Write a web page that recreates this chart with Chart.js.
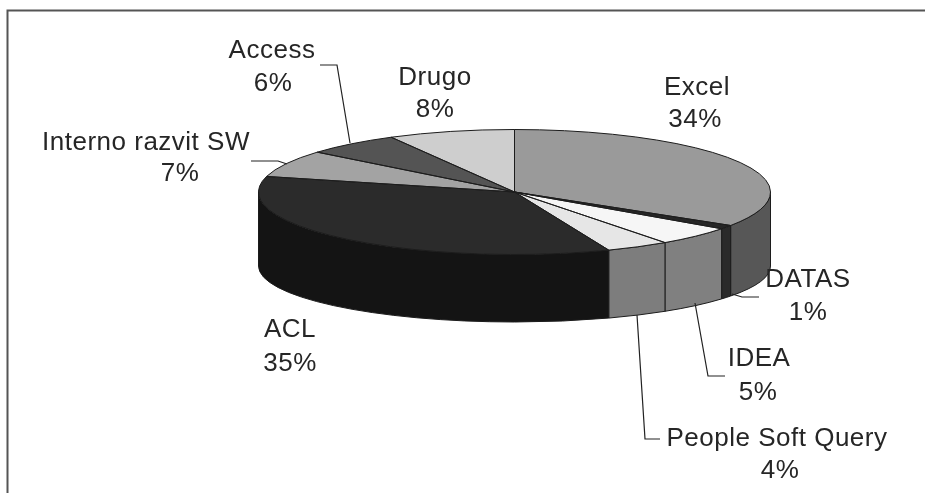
<!DOCTYPE html>
<html>
<head>
<meta charset="utf-8">
<style>
    html, body { margin: 0; padding: 0; background: #fff; }
    canvas { display: block; }
</style>
<script src="https://cdn.jsdelivr.net/npm/chart.js@4/dist/chart.umd.min.js"></script>
</head>
<body>
<canvas id="pieChart" width="925" height="493"></canvas>
<script>
const categories = ['Excel', 'DATAS', 'IDEA', 'People Soft Query', 'ACL', 'Interno razvit SW', 'Access', 'Drugo'];
const shares = [34, 1, 5, 4, 35, 7, 6, 8];
const topColors = ['#9a9a9a', '#262626', '#f6f6f6', '#e6e6e6', '#2b2b2b', '#a3a3a3', '#545454', '#cecece'];
const sideColors = ['#575757', '#2a2a2a', '#808080', '#7d7d7d', '#141414', '#555555', '#333333', '#777777'];

// posizione del disco inclinato sulla pagina (il fondo è più piatto, per la prospettiva)
const disc = { x: 514.5, y: 192, rx: 256, ry: 62.5, bottomY: 266, bottomRy: 56 };
const lineColor = '#1c1c1c';

// posizione delle etichette: [x nome, y nome, x percentuale, y percentuale]
const labelSpots = [
    [697, 88, 695, 120],
    [808, 280, 808, 313],
    [759, 359, 758, 393],
    [777, 439, 780, 471],
    [290, 330, 290, 364],
    [146, 143, 180, 174],
    [272, 51, 273, 84],
    [435, 78, 435, 110]
];

// linee guida tra etichetta e fetta
const leaders = [
    [[732, 294], [742, 297], [759, 297]],
    [[695, 303], [708, 376], [725, 376]],
    [[637, 315], [645, 439], [660, 439]],
    [[251, 161], [278, 161], [287, 164]],
    [[320, 65], [337, 65], [350, 143]]
];

const tiltedPie = {
    id: 'tiltedPie',
    beforeDatasetsDraw(chart) {
        const ctx = chart.ctx;
        const arcs = chart.getDatasetMeta(0).data;

        // fianco del disco: solo la metà davanti è visibile
        arcs.forEach(function(arc, i) {
            const from = Math.max(arc.startAngle, 0);
            const to = Math.min(arc.endAngle, Math.PI);
            if (from >= to) return;
            ctx.beginPath();
            ctx.ellipse(disc.x, disc.y, disc.rx, disc.ry, 0, from, to);
            ctx.ellipse(disc.x, disc.bottomY, disc.rx, disc.bottomRy, 0, to, from, true);
            ctx.closePath();
            ctx.fillStyle = sideColors[i];
            ctx.fill();
            ctx.strokeStyle = lineColor;
            ctx.lineWidth = 1;
            ctx.stroke();
        });

        // le fette di Chart.js vengono schiacciate sull'ellisse
        const first = arcs[0];
        ctx.save();
        ctx.translate(disc.x, disc.y);
        ctx.scale(disc.rx / first.outerRadius, disc.ry / first.outerRadius);
        ctx.translate(-first.x, -first.y);
    },
    afterDatasetsDraw(chart) {
        const ctx = chart.ctx;
        ctx.restore();

        // contorno delle fette
        chart.getDatasetMeta(0).data.forEach(function(arc) {
            ctx.beginPath();
            ctx.moveTo(disc.x, disc.y);
            ctx.ellipse(disc.x, disc.y, disc.rx, disc.ry, 0, arc.startAngle, arc.endAngle);
            ctx.closePath();
            ctx.strokeStyle = lineColor;
            ctx.lineWidth = 1;
            ctx.stroke();
        });

        leaders.forEach(function(points) {
            ctx.beginPath();
            points.forEach(function(p, i) {
                if (i === 0) ctx.moveTo(p[0], p[1]);
                else ctx.lineTo(p[0], p[1]);
            });
            ctx.strokeStyle = '#222222';
            ctx.lineWidth = 1.2;
            ctx.stroke();
        });

        // etichette
        ctx.font = '26px "Liberation Sans"';
        ctx.letterSpacing = '0.5px';
        ctx.fillStyle = '#262626';
        ctx.textAlign = 'center';
        ctx.textBaseline = 'middle';
        categories.forEach(function(name, i) {
            const spot = labelSpots[i];
            ctx.fillText(name, spot[0], spot[1]);
            ctx.fillText(shares[i] + '%', spot[2], spot[3]);
        });

        // cornice dell'immagine
        ctx.beginPath();
        ctx.moveTo(7.5, 493);
        ctx.lineTo(7.5, 10.5);
        ctx.lineTo(925, 10.5);
        ctx.strokeStyle = '#555555';
        ctx.lineWidth = 2;
        ctx.stroke();
    }
};

new Chart(document.getElementById('pieChart').getContext('2d'), {
    type: 'pie',
    data: {
        labels: categories,
        datasets: [{
            data: shares,
            backgroundColor: topColors,
            borderWidth: 0
        }]
    },
    options: {
        responsive: false,
        animation: false,
        events: [],
        plugins: {
            legend: { display: false },
            tooltip: { enabled: false }
        }
    },
    plugins: [tiltedPie]
});
</script>
</body>
</html>
